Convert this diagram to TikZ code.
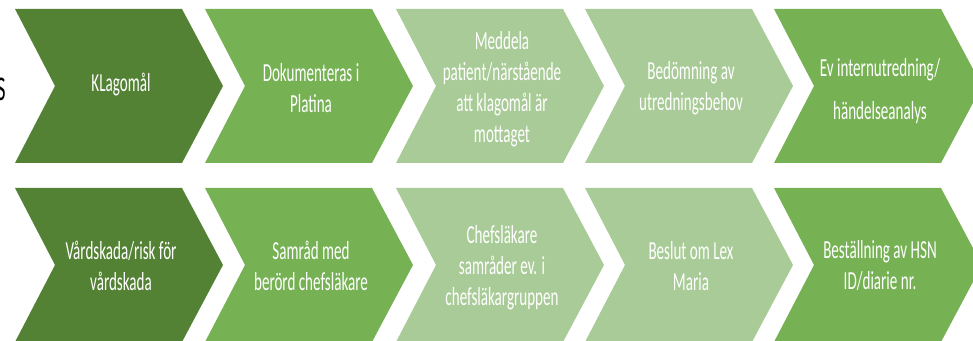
\documentclass[tikz,border=0pt]{standalone}
\usepackage{fontspec}
\setmainfont{Carlito}[FakeStretch=0.58]
\definecolor{cdark}{RGB}{84,130,53}
\definecolor{cmed}{RGB}{118,177,84}
\definecolor{clight}{RGB}{169,203,151}
\tikzset{
  chevtext/.style={text=white, align=center, inner sep=0pt, font=\fontsize{19.5}{23.25}\selectfont},
  chevtextwide/.style={text=white, align=center, inner sep=0pt, font=\fontsize{19.5}{32}\selectfont}
}
\newcommand{\mychev}[3]{%
  \fill[#3] (#1,#2) -- ++(167,0) -- ++(41,77) -- ++(-41,77) -- ++(-167,0) -- ++(40,-77) -- cycle;}
\begin{document}
\begin{tikzpicture}[x=0.75pt,y=-0.75pt]
\useasboundingbox (0,0) rectangle (973,341);
\clip (0,0) rectangle (973,341);
% row 1
\mychev{15}{9}{cdark}
\mychev{205}{9}{cmed}
\mychev{396}{9}{clight}
\mychev{585}{9}{clight}
\mychev{774}{9}{cmed}
% row 2
\mychev{15}{188}{cdark}
\mychev{205}{188}{cmed}
\mychev{396}{188}{clight}
\mychev{585}{188}{clight}
\mychev{774}{188}{cmed}
% texts row 1
\node[chevtext] (a1) at (121,85) {KLagomål};
\node[chevtext] (a2) at (311,88) {Dokumenteras i\\Platina};
\node[chevtext] (a3) at (502,89) {Meddela\\patient/närstående\\att klagomål är\\mottaget};
\node[chevtext] (a4) at (691,88) {Bedömning av\\utredningsbehov};
\node[chevtextwide] (a5) at (880,91) {Ev internutredning/\\händelseanalys};
% texts row 2
\node[chevtext] (b1) at (121,266) {Vårdskada/risk för\\vårdskada};
\node[chevtext] (b2) at (311,266) {Samråd med\\berörd chefsläkare};
\node[chevtext] (b3) at (502,268) {Chefsläkare\\samråder ev. i\\chefsläkargruppen};
\node[chevtext] (b4) at (691,266) {Beslut om Lex\\Maria};
\node[chevtext] (b5) at (880,266) {Beställning av HSN\\ID/diarie nr.};
% cut-off fragment at left edge
\node[anchor=east, inner sep=0pt, font=\fontsize{26}{30}\selectfont] (frag) at (6,89) {S};
\end{tikzpicture}
\end{document}
